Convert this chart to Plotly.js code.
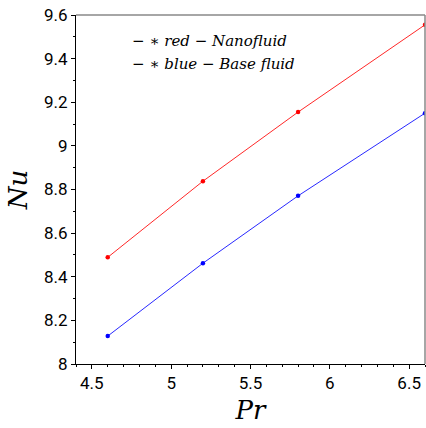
<!DOCTYPE html>
<html>
<head>
<meta charset="utf-8">
<script src="https://cdn.plot.ly/plotly-3.0.1.min.js"></script>
<style>
  html, body { margin: 0; padding: 0; background: #fff; }
  #chart { width: 426px; height: 428px; }
</style>
</head>
<body>
<div id="chart"></div>
<script>
// Prandtl number values
const prandtl = [4.6, 5.2, 5.8, 6.6];
// Nusselt number for the nanofluid
const nuNanofluid = [8.489, 8.838, 9.155, 9.555];
// Nusselt number for the base fluid
const nuBaseFluid = [8.128, 8.462, 8.771, 9.150];
// legend lines written as text
const legendLines = ['\u2212 \u2217 red \u2212 Nanofluid', '\u2212 \u2217 blue \u2212 Base fluid'];

const mathFont = {family: 'DejaVu Serif', color: '#000'};

const traces = [
  {x: prandtl, y: nuNanofluid, mode: 'lines+markers', type: 'scatter',
   line: {color: 'rgb(255,40,40)', width: 1},
   marker: {color: 'rgb(255,0,0)', size: 4.5, symbol: 'circle'}},
  {x: prandtl, y: nuBaseFluid, mode: 'lines+markers', type: 'scatter',
   line: {color: 'rgb(40,40,255)', width: 1},
   marker: {color: 'rgb(0,0,255)', size: 4.5, symbol: 'circle'}}
];

const axisCommon = {
  showgrid: false, zeroline: false,
  ticks: 'outside', ticklen: 4, tickcolor: '#000', tickwidth: 1,
  showline: true, linecolor: '#000', linewidth: 1,
  tickfont: {family: 'Roboto', size: 17, color: '#000'}
};

const layout = {
  width: 426, height: 428,
  margin: {l: 76, r: 1, t: 15, b: 64},
  paper_bgcolor: '#fff', plot_bgcolor: '#fff',
  showlegend: false,
  xaxis: Object.assign({}, axisCommon, {
    range: [4.4, 6.6], tickvals: [4.5, 5, 5.5, 6, 6.5], ticktext: ['4.5', '5', '5.5', '6', '6.5'],
    minor: {dtick: 0.1, ticks: 'outside', ticklen: 2, tickcolor: '#000', showgrid: false},
    title: {text: 'Pr', font: Object.assign({size: 26, style: 'italic'}, mathFont), standoff: 8}
  }),
  yaxis: Object.assign({}, axisCommon, {
    range: [8, 9.6], tickvals: [8, 8.2, 8.4, 8.6, 8.8, 9, 9.2, 9.4, 9.6],
    ticktext: ['8', '8.2', '8.4', '8.6', '8.8', '9', '9.2', '9.4', '9.6'],
    minor: {dtick: 0.1, ticks: 'outside', ticklen: 2, tickcolor: '#000', showgrid: false},
    title: {text: 'Nu', font: Object.assign({size: 26, style: 'italic'}, mathFont), standoff: 8}
  }),
  shapes: [
    {type: 'line', xref: 'paper', yref: 'paper', x0: 0, x1: 1, y0: 1, y1: 1, line: {color: '#888', width: 1.5}},
    {type: 'line', xref: 'paper', yref: 'paper', x0: 1, x1: 1, y0: 0, y1: 1, line: {color: '#888', width: 1.5}}
  ],
  annotations: legendLines.map((t, i) => ({
    text: t, xref: 'paper', yref: 'paper', x: 0.155, y: 0.925 - i * 0.066,
    xanchor: 'left', yanchor: 'middle', showarrow: false,
    font: Object.assign({size: 15, style: 'italic'}, mathFont)
  }))
};

Plotly.newPlot('chart', traces, layout, {displayModeBar: false, staticPlot: true});
</script>
</body>
</html>
